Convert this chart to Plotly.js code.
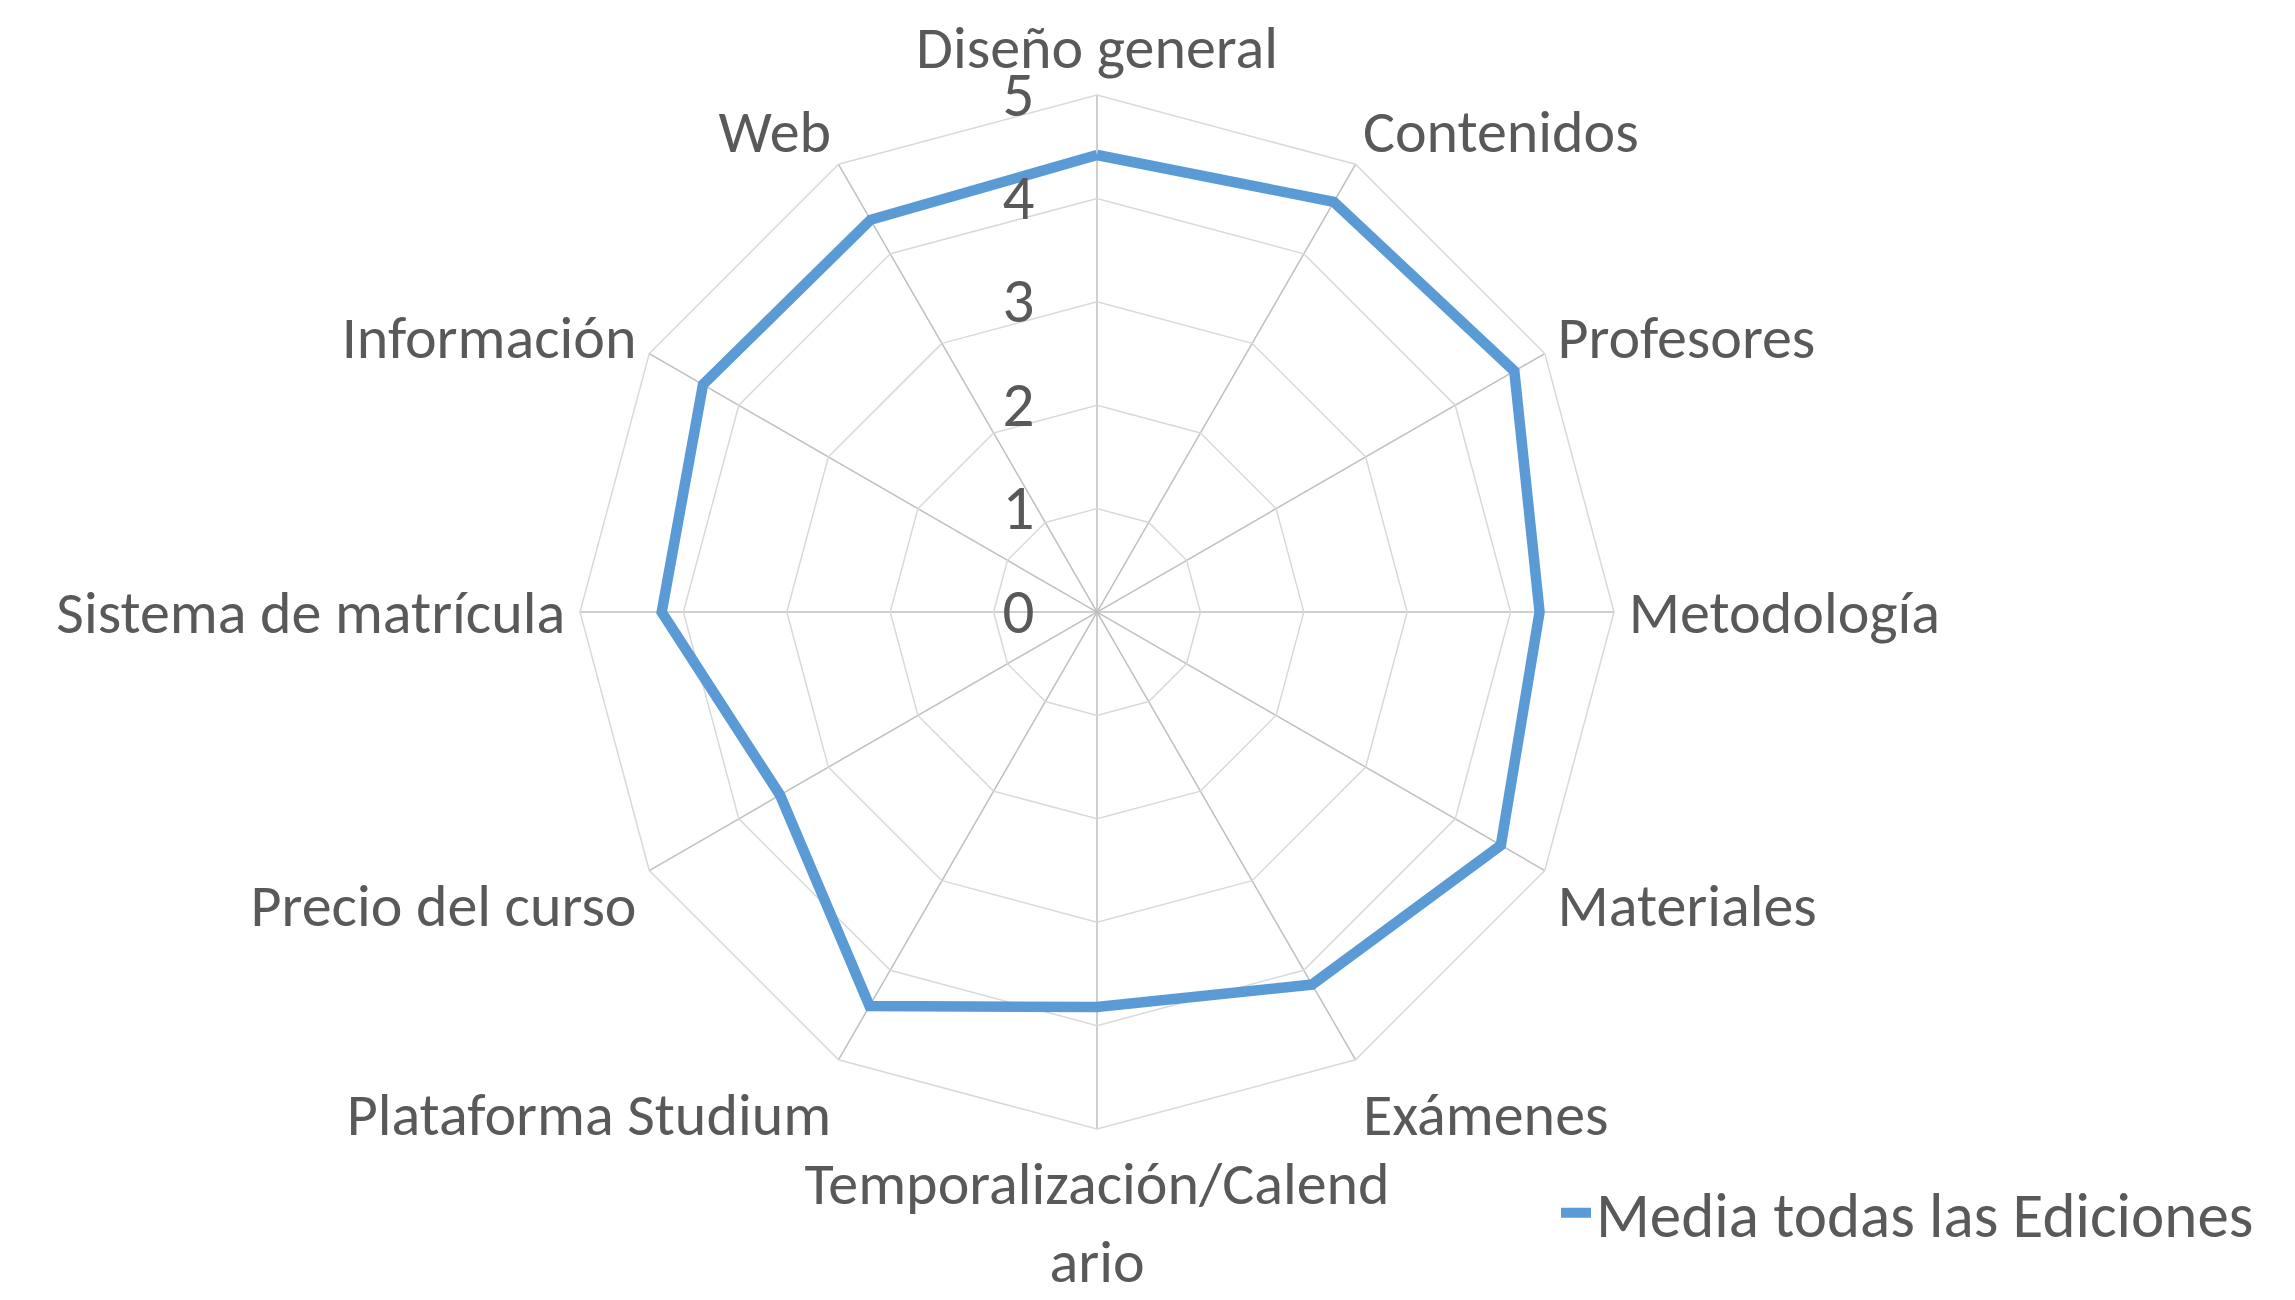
<!DOCTYPE html>
<html>
<head>
<meta charset="utf-8">
<script src="https://cdn.plot.ly/plotly-3.0.1.min.js"></script>
<style>html,body{margin:0;padding:0;background:#fff;}#chart{width:2295px;height:1300px;}</style>
</head>
<body>
<div id="chart"></div>
<script>
var categories = ["Diseño general", "Contenidos", "Profesores", "Metodología", "Materiales", "Exámenes",
  "Temporalización/Calendario", "Plataforma Studium", "Precio del curso", "Sistema de matrícula", "Información", "Web"];
var categoryLabels = ["Diseño general", "Contenidos", "Profesores", "Metodología", "Materiales", "Exámenes",
  "Temporalización/Calend<br>ario", "Plataforma Studium", "Precio del curso", "Sistema de matrícula", "Información", "Web"];
var mediaTodas = [4.42, 4.58, 4.66, 4.28, 4.51, 4.16, 3.82, 4.40, 3.54, 4.21, 4.40, 4.38];
var seriesName = "Media todas las Ediciones";
var radialTicks = [0, 1, 2, 3, 4, 5];

var FONT = "Calibri, Carlito, Lato, sans-serif";
var TXT = "#595959";
var FS = 60;

var trace = {
  type: "scatterpolar",
  mode: "lines",
  name: seriesName,
  r: mediaTodas.concat([mediaTodas[0]]),
  theta: categories.concat([categories[0]]),
  line: {color: "#5B9BD5", width: 10.5, shape: "linear"},
  hoverinfo: "skip"
};

var layout = {
  width: 2295, height: 1300,
  margin: {l: 0, r: 0, t: 0, b: 0},
  paper_bgcolor: "#ffffff",
  font: {family: FONT, color: TXT, size: FS},
  showlegend: true,
  legend: {
    x: 0.678, y: 0.067, xanchor: "left", yanchor: "middle",
    font: {family: FONT, size: 63, color: TXT},
    bgcolor: "rgba(0,0,0,0)",
    itemwidth: 30
  },
  polar: {
    domain: {x: [0.2527, 0.7033], y: [0.1315, 0.9269]},
    bgcolor: "#ffffff",
    gridshape: "linear",
    angularaxis: {
      type: "category",
      categoryarray: categories,
      tickvals: categories,
      ticktext: categoryLabels,
      direction: "clockwise",
      rotation: 90,
      showline: true,
      linecolor: "#d9d9d9",
      linewidth: 1.5,
      gridcolor: "#bfbfbf",
      gridwidth: 1.5,
      ticks: "outside",
      ticklen: 2,
      tickcolor: "rgba(0,0,0,0)",
      tickfont: {family: FONT, size: FS, color: TXT}
    },
    radialaxis: {
      range: [0, 5],
      tickvals: radialTicks,
      ticktext: radialTicks.map(String),
      angle: 90,
      side: "counterclockwise",
      showline: false,
      gridcolor: "#d9d9d9",
      gridwidth: 1.5,
      ticks: "outside",
      ticklen: 40,
      tickcolor: "rgba(0,0,0,0)",
      tickangle: 90,
      tickfont: {family: FONT, size: 63, color: TXT}
    }
  }
};

Plotly.newPlot("chart", [trace], layout, {displayModeBar: false, staticPlot: true});
</script>
</body>
</html>
